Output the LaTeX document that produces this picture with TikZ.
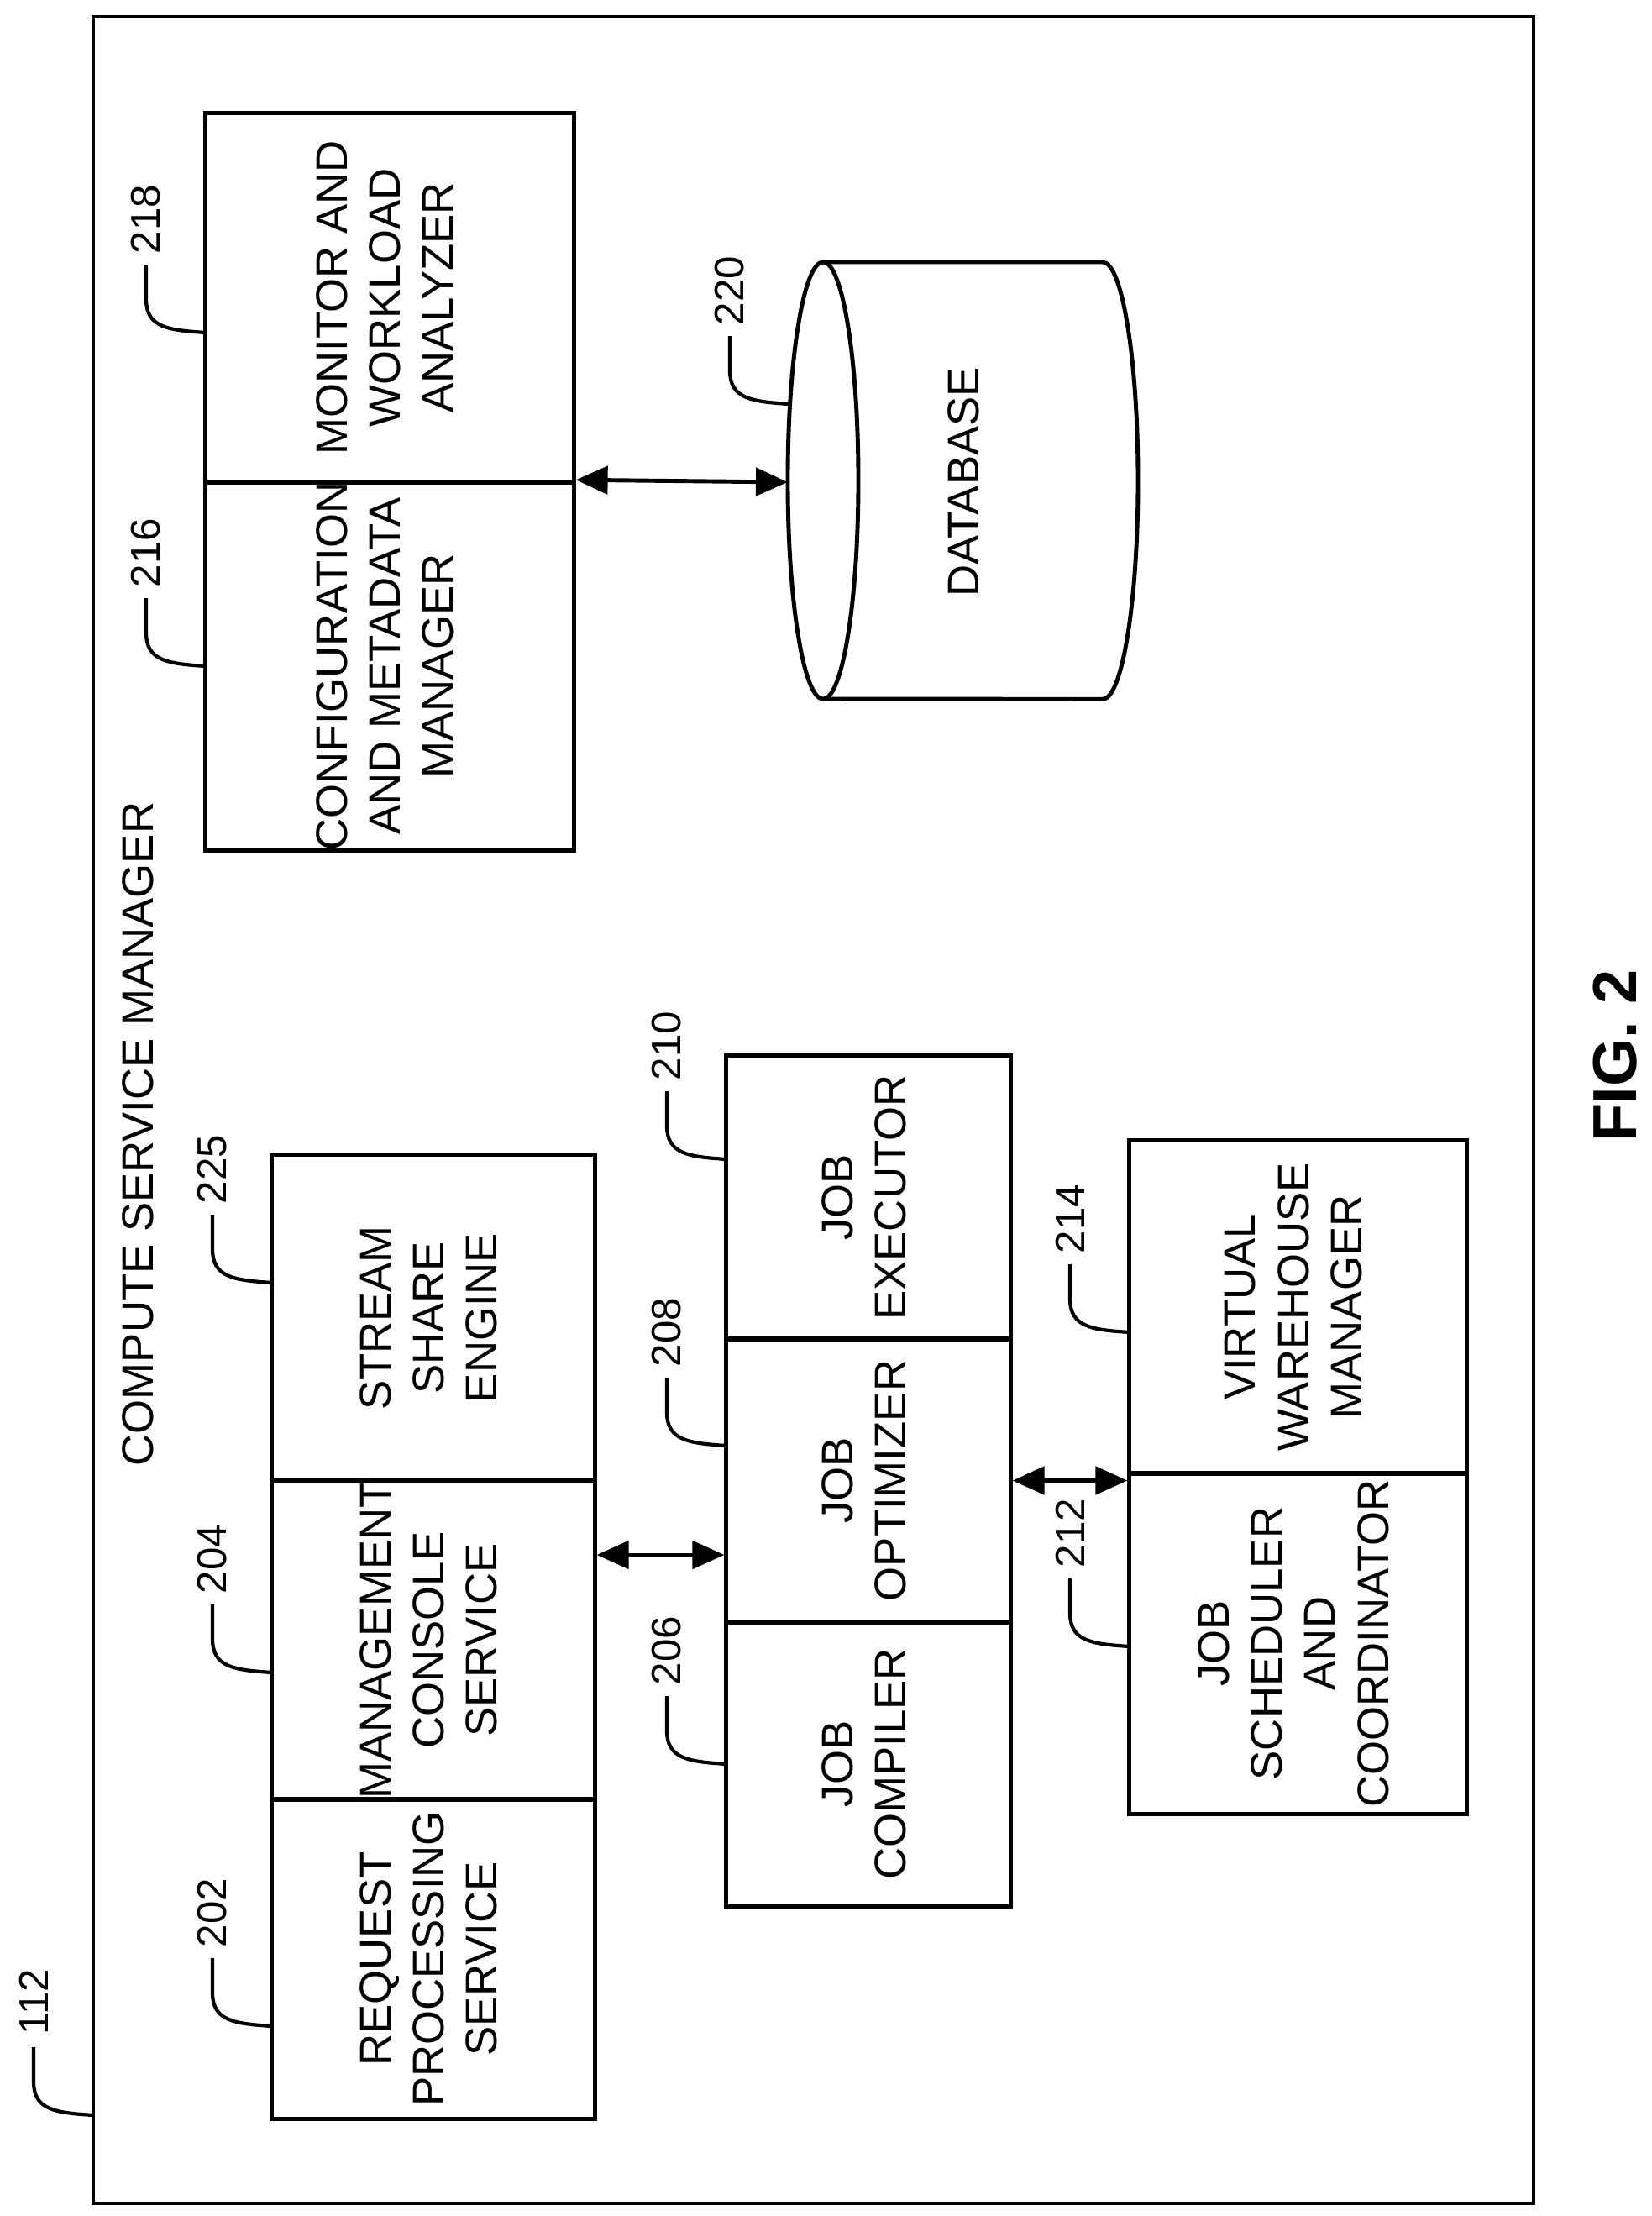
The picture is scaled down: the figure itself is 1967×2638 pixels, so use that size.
\documentclass[tikz,border=0pt]{standalone}
\usepackage{fontspec}
\setmainfont{Liberation Sans}
\usetikzlibrary{calc,arrows.meta}
\tikzset{
  box/.style={draw, line width=1.4pt, inner sep=0pt, align=center, font=\fontsize{15}{18}\selectfont},
  dbl/.style={line width=1.4pt, {Triangle[length=3.8mm,width=3.3mm]}-{Triangle[length=3.8mm,width=3.3mm]}},
  lead/.style={line width=1.2pt},
  refno/.style={rotate=90, font=\fontsize{14}{16}\selectfont, inner sep=0pt}
}
% reference number with curved leader ending at #2
\newcommand{\refnum}[3]{%
  \draw[lead] ($(#2)+(-71,-81)$) -- ($(#2)+(-71,-40)$)
     .. controls ($(#2)+(-71,-6)$) and ($(#2)+(-45,-3)$) .. (#2);
  \node[refno] (#3) at ($(#2)+(-71,-135)$) {#1};}
\newcommand{\vtext}[1]{\rotatebox{90}{\begin{tabular}{@{}c@{}}#1\end{tabular}}}
\begin{document}
\begin{tikzpicture}[x=0.01cm, y=-0.01cm]
  \useasboundingbox (0,0) rectangle (1967,2638);
%% Frame
  \draw[line width=1.4pt] (111,20) rectangle (1826,2623);
  \node[rotate=90, font=\fontsize{15}{18}\selectfont] (csm) at (164,1350) {COMPUTE SERVICE MANAGER};
  \node[rotate=90, font=\fontsize{21}{24}\selectfont\bfseries] (fig) at (1923,1257) {FIG. 2};
%% Boxes
  \node[box, minimum width=3.84cm, minimum height=3.80cm] (rps) at (516,2332) {\vtext{REQUEST\\PROCESSING\\SERVICE}};
  \node[box, minimum width=3.84cm, minimum height=3.79cm] (mcs) at (516,1952.5) {\vtext{MANAGEMENT\\CONSOLE\\SERVICE}};
  \node[box, minimum width=3.84cm, minimum height=3.88cm] (sse) at (516,1569) {\vtext{STREAM\\SHARE\\ENGINE}};
  \node[box, minimum width=3.38cm, minimum height=3.38cm] (jc) at (1034,2100) {\vtext{JOB\\COMPILER}};
  \node[box, minimum width=3.38cm, minimum height=3.37cm] (jo) at (1034,1762.5) {\vtext{JOB\\OPTIMIZER}};
  \node[box, minimum width=3.38cm, minimum height=3.37cm] (je) at (1034,1425.5) {\vtext{JOB\\EXECUTOR}};
  \node[box, minimum width=4.01cm, minimum height=4.05cm] (jsc) at (1545.5,1956.5) {\vtext{JOB\\SCHEDULER\\AND\\COORDINATOR}};
  \node[box, minimum width=4.01cm, minimum height=3.96cm] (vwm) at (1545.5,1556) {\vtext{VIRTUAL\\WAREHOUSE\\MANAGER}};
  \node[box, minimum width=4.38cm, minimum height=4.38cm] (cmm) at (464,793) {\vtext{CONFIGURATION\\AND METADATA\\MANAGER}};
  \node[box, minimum width=4.38cm, minimum height=4.39cm] (mwa) at (464,354.5) {\vtext{MONITOR AND\\WORKLOAD\\ANALYZER}};
%% Database
  \draw[line width=1.4pt] (980,312) -- (1313,312) arc[start angle=90, end angle=-90, x radius=0.42cm, y radius=2.6cm] -- (980,832);
  \draw[line width=1.4pt] (980,572) ellipse[x radius=0.42cm, y radius=2.6cm];
  \coordinate (dbw) at (938,574);
  \node[rotate=90, font=\fontsize{15}{18}\selectfont] (db) at (1147,574) {DATABASE};
%% Arrows
  \draw[dbl] (mcs.east |- 0,1851) -- (jo.west |- 0,1851);
  \draw[dbl] (jo.east) -- (jo.east -| jsc.west);
  \draw[dbl] (cmm.north east) -- (dbw);
%% Reference numbers
  \refnum{112}{111,2518}{n112}
  \refnum{218}{245,396}{n218}
  \refnum{216}{245,793}{n216}
  \refnum{220}{940,481}{n220}
  \refnum{225}{324,1527}{n225}
  \refnum{204}{324,1991}{n204}
  \refnum{202}{324,2412}{n202}
  \refnum{210}{865,1380}{n210}
  \refnum{208}{865,1721}{n208}
  \refnum{206}{865,2100}{n206}
  \refnum{214}{1345,1586}{n214}
  \refnum{212}{1345,1960}{n212}
\end{tikzpicture}
\end{document}
